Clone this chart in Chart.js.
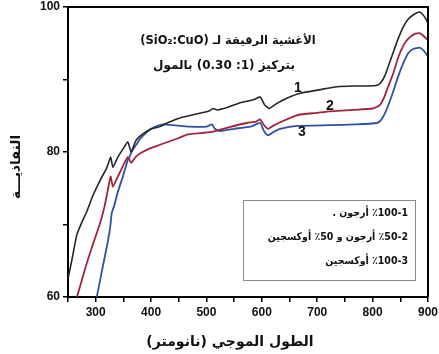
<!DOCTYPE html>
<html>
<head>
<meta charset="utf-8">
<script src="https://cdn.jsdelivr.net/npm/chart.js@4/dist/chart.umd.min.js"></script>
<style>
  html, body { margin: 0; padding: 0; background: #fff; }
  #chart { display: block; }
</style>
</head>
<body>
<canvas id="chart" width="439" height="354"></canvas>
<script>
// Series 1 : 100% argon (black)
const wl1 = [250, 257, 266, 275, 284, 295, 308, 320, 327, 331, 340, 350, 358, 364, 372, 380, 398, 416, 429, 452, 480, 506, 512, 520, 540, 561, 585, 597, 605, 613, 625, 645, 669, 705, 736, 765, 790, 808, 815, 822, 830, 837, 846, 855, 864, 873, 885, 890, 895, 900];
const t1  = [62.5, 65.1, 68.6, 70.3, 71.8, 74.0, 76.1, 77.8, 79.3, 77.9, 79.3, 80.5, 81.4, 80.0, 81.5, 82.2, 83.1, 83.5, 84.0, 84.7, 85.2, 85.7, 86.0, 85.8, 86.2, 86.8, 87.2, 87.6, 86.5, 86.0, 86.6, 87.4, 88.1, 88.6, 89.0, 89.1, 89.1, 89.2, 89.6, 90.5, 92.2, 93.7, 95.6, 97.2, 98.3, 98.9, 99.3, 99.0, 98.5, 97.8];

// Series 2 : 50% argon + 50% oxygen (red)
const wl2 = [266, 275, 284, 296, 308, 316, 322, 327, 331, 340, 350, 358, 364, 372, 380, 398, 416, 449, 465, 490, 512, 540, 573, 590, 597, 603, 611, 620, 633, 664, 700, 723, 765, 800, 812, 820, 828, 837, 846, 855, 864, 876, 885, 892, 900];
const t2  = [60.0, 62.3, 64.7, 67.5, 70.2, 72.5, 74.8, 76.6, 75.2, 76.6, 78.2, 79.3, 78.5, 79.3, 79.8, 80.5, 81.0, 81.9, 82.4, 82.6, 82.8, 83.4, 84.0, 84.2, 84.5, 83.8, 83.2, 83.6, 84.1, 85.1, 85.4, 85.6, 85.8, 86.0, 86.4, 87.4, 89.0, 90.8, 93.0, 94.6, 95.6, 96.3, 96.4, 96.0, 95.4];

// Series 3 : 100% oxygen (blue)
const wl3 = [302, 311, 320, 326, 329, 333, 340, 349, 358, 362, 367, 375, 380, 393, 405, 422, 440, 470, 500, 510, 515, 524, 550, 580, 597, 603, 611, 622, 633, 664, 723, 770, 808, 815, 822, 830, 837, 846, 855, 864, 873, 885, 892, 900];
const t3  = [60.0, 63.5, 66.9, 69.5, 71.6, 72.5, 74.5, 76.6, 78.9, 79.5, 80.3, 81.2, 81.8, 82.8, 83.4, 83.8, 83.7, 83.5, 83.5, 83.8, 83.2, 82.9, 83.2, 83.5, 84.0, 83.0, 82.3, 82.8, 83.2, 83.6, 83.7, 83.8, 84.0, 84.4, 85.3, 86.8, 88.3, 90.4, 92.2, 93.6, 94.2, 94.4, 94.0, 93.2];

// Axes
const xMin = 250, xMax = 900;
const yMin = 60, yMax = 100;
const xLabelTicks = [300, 400, 500, 600, 700, 800, 900];
const yLabelTicks = [60, 80, 100];

const titleLines = ['الأغشية الرقيقة لـ (SiO₂:CuO)', 'بتركيز (1: 0.30) بالمول'];
const xTitle = 'الطول الموجي (نانومتر)';
const yTitle = 'النفاذيـــة';
const LRM = '\u200E';
// legend lines, pieces written in the order they appear from left to right
const legendLines = [
  ['.', ' ', 'أرجون', ' ', '٪', '100', '-', '1'],
  ['أوكسجين', ' ', '٪', '50', ' ', 'و', ' ', 'أرجون', ' ', '٪', '50', '-', '2'],
  ['أوكسجين', ' ', '٪', '100', '-', '3']
];

const toPoints = (xs, ys) => xs.map((x, i) => ({ x: x, y: ys[i] }));

const FONT = "'Liberation Sans', 'DejaVu Sans', sans-serif";
const AFONT = "'DejaVu Sans', 'Noto Sans', sans-serif";
const CFONT = "'DejaVu Sans Condensed', 'DejaVu Sans', sans-serif";

const decorPlugin = {
  id: 'decor',
  afterDraw(chart) {
    const ctx = chart.ctx;
    const a = chart.chartArea;
    ctx.save();

    // frame top and right
    ctx.strokeStyle = '#000';
    ctx.lineWidth = 2;
    ctx.beginPath();
    ctx.moveTo(a.left, a.top);
    ctx.lineTo(a.right, a.top);
    ctx.lineTo(a.right, a.bottom);
    ctx.stroke();

    ctx.fillStyle = '#111';
    ctx.textBaseline = 'middle';

    // title inside the plot
    ctx.direction = 'rtl';
    ctx.textAlign = 'center';
    ctx.font = 'bold 11.5px ' + AFONT;
    ctx.fillText(titleLines[0], 228, 41);
    ctx.font = 'bold 12px ' + AFONT;
    ctx.fillText(titleLines[1], 224, 66);

    // curve numbers
    ctx.direction = 'ltr';
    ctx.font = 'bold 14px ' + FONT;
    ctx.fillText('1', 298, 88);
    ctx.fillText('2', 330, 106);
    ctx.fillText('3', 302, 132);

    // legend box
    ctx.strokeStyle = '#8a8a8a';
    ctx.lineWidth = 1;
    ctx.strokeRect(243.5, 200.5, 172, 80);
    ctx.font = 'bold 10.5px ' + CFONT;
    ctx.textAlign = 'right';
    ctx.direction = 'ltr';
    legendLines.forEach((parts, i) => {
      ctx.fillText(LRM + parts.join(LRM) + LRM, 408, 213 + i * 24);
    });

    // axis titles
    ctx.direction = 'rtl';
    ctx.textAlign = 'center';
    ctx.font = 'bold 14px ' + AFONT;
    ctx.fillText(xTitle, 230, 342);
    ctx.translate(16, 167);
    ctx.rotate(-Math.PI / 2);
    ctx.font = 'bold 13.5px ' + AFONT;
    ctx.fillText(yTitle, 0, 0);

    ctx.restore();
  }
};

new Chart(document.getElementById('chart'), {
  type: 'line',
  data: {
    datasets: [
      { label: '1', data: toPoints(wl1, t1), borderColor: '#262626', borderWidth: 1.6 },
      { label: '2', data: toPoints(wl2, t2), borderColor: '#a3233a', borderWidth: 1.8 },
      { label: '3', data: toPoints(wl3, t3), borderColor: '#2d52a3', borderWidth: 1.8 }
    ]
  },
  options: {
    responsive: false,
    animation: false,
    devicePixelRatio: 1,
    layout: { padding: { top: 7, right: 11, left: 0, bottom: 0 } },
    elements: { point: { radius: 0 }, line: { tension: 0.15, fill: false } },
    plugins: { legend: { display: false }, tooltip: { enabled: false } },
    scales: {
      x: {
        type: 'linear',
        min: xMin, max: xMax,
        afterFit: s => { s.height = 57; s.paddingLeft = 0; s.paddingRight = 0; },
        ticks: {
          stepSize: 50,
          autoSkip: false,
          maxRotation: 0,
          padding: 3,
          color: '#111',
          font: { family: FONT, size: 12, weight: 'bold' },
          callback: v => xLabelTicks.includes(v) ? v : ''
        },
        grid: { drawOnChartArea: false, drawTicks: true, tickLength: 5, color: '#000', lineWidth: 1.5 },
        border: { display: true, color: '#000', width: 2 }
      },
      y: {
        min: yMin, max: yMax,
        afterFit: s => { s.width = 68; s.paddingTop = 0; s.paddingBottom = 0; },
        ticks: {
          stepSize: 10,
          autoSkip: false,
          padding: 3,
          color: '#111',
          font: { family: FONT, size: 12, weight: 'bold' },
          callback: v => yLabelTicks.includes(v) ? v : ''
        },
        grid: { drawOnChartArea: false, drawTicks: true, tickLength: 5, color: '#000', lineWidth: 1.5 },
        border: { display: true, color: '#000', width: 2 }
      }
    }
  },
  plugins: [decorPlugin]
});
</script>
</body>
</html>
